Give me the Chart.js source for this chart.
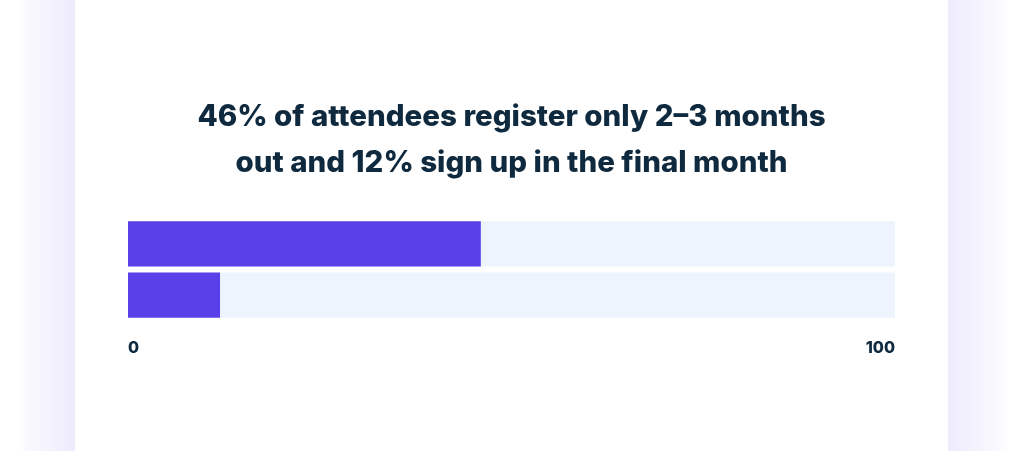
<!DOCTYPE html>
<html>
<head>
<meta charset="utf-8">
<script src="https://cdn.jsdelivr.net/npm/chart.js@4/dist/chart.umd.min.js"></script>
<style>
  html, body { margin: 0; padding: 0; }
  body {
    width: 1024px; height: 451px; overflow: hidden; position: relative;
    background: linear-gradient(to right,
      #ffffff 0px, #ffffff 18px, #f9f8fe 30px, #eeebfd 75px,
      #ffffff 75px, #ffffff 948px,
      #eeebfd 948px, #f9f8fe 995px, #ffffff 1010px, #ffffff 1024px);
  }
  #wrap { position: absolute; left: 0; top: 0; width: 1024px; height: 451px; }
</style>
</head>
<body>
<div id="wrap"><canvas id="bar-chart"></canvas></div>
<script>
// Chart data
var titleLines = ['46% of attendees register only 2–3 months', 'out and 12% sign up in the final month'];
var categories = ['Register 2–3 months out', 'Sign up in the final month'];
var shareValues = [46, 12];
var trackValues = [100, 100];
var tickValues = [0, 100];

document.addEventListener('DOMContentLoaded', function () {
  var ctx = document.getElementById('bar-chart');

  var chartData = {
    labels: categories,
    datasets: [{
      label: 'Share of attendees (%)',
      data: shareValues,
      backgroundColor: '#5940e8',
      order: 0
    }, {
      label: 'Total',
      data: trackValues,
      backgroundColor: '#eef4fe',
      order: 1
    }]
  };

  var chartOptions = {
    indexAxis: 'y',
    responsive: true,
    maintainAspectRatio: false,
    animation: false,
    datasets: {
      bar: {
        grouped: false,
        categoryPercentage: 1,
        barPercentage: 0.88,
        borderWidth: 0
      }
    },
    layout: {
      padding: { left: 128, right: 129, top: 0, bottom: 75 }
    },
    plugins: {
      legend: { display: false },
      tooltip: { enabled: false },
      title: {
        display: true,
        text: titleLines,
        color: '#0f2a3f',
        font: { family: 'Inter', size: 29.5, weight: '800', lineHeight: 1.53 },
        padding: { top: 95, bottom: 33 }
      }
    },
    scales: {
      x: {
        min: 0,
        max: 100,
        afterBuildTicks: function (axis) {
          axis.ticks = tickValues.map(function (v) { return { value: v }; });
        },
        grid: { display: false, drawTicks: false },
        border: { display: false },
        ticks: {
          align: 'inner',
          padding: 18,
          color: '#0f2a3f',
          font: { family: 'Inter', size: 16, weight: '800' }
        }
      },
      y: { display: false }
    }
  };

  new Chart(ctx, { type: 'bar', data: chartData, options: chartOptions });
});
</script>
</body>
</html>
